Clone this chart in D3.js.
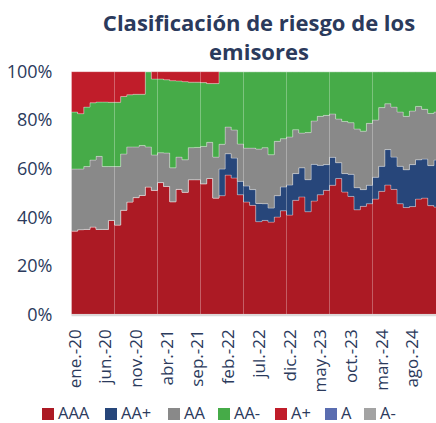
<!DOCTYPE html>
<html><head><meta charset="utf-8">
<script src="https://cdn.jsdelivr.net/npm/d3@7"></script>
<style>
body{margin:0;background:#fff}
svg{display:block}
text{font-family:"Open Sans",sans-serif;fill:#2B3A5C}
</style>
</head><body>
<svg id="c" width="436" height="423"></svg>
<script>
const months = [
 "ene.-20","feb.-20","mar.-20","abr.-20","may.-20","jun.-20","jul.-20","ago.-20","sep.-20","oct.-20","nov.-20","dic.-20",
 "ene.-21","feb.-21","mar.-21","abr.-21","may.-21","jun.-21","jul.-21","ago.-21","sep.-21","oct.-21","nov.-21","dic.-21",
 "ene.-22","feb.-22","mar.-22","abr.-22","may.-22","jun.-22","jul.-22","ago.-22","sep.-22","oct.-22","nov.-22","dic.-22",
 "ene.-23","feb.-23","mar.-23","abr.-23","may.-23","jun.-23","jul.-23","ago.-23","sep.-23","oct.-23","nov.-23","dic.-23",
 "ene.-24","feb.-24","mar.-24","abr.-24","may.-24","jun.-24","jul.-24","ago.-24","sep.-24","oct.-24","nov.-24","dic.-24"];
const tickLabels = ["ene.-20","jun.-20","nov.-20","abr.-21","sep.-21","feb.-22","jul.-22","dic.-22","may.-23","oct.-23","mar.-24","ago.-24"];
const gridMonths = ["ago.-20","mar.-21","oct.-21","may.-22","dic.-22","jul.-23","feb.-24"];
const yTicks = [0,20,40,60,80,100];
const seriesNames = ["AAA","AA+","AA","AA-","A+","A","A-"];
const colors = ["#AC1A24","#27467A","#898989","#46AB48","#C01D2A","#5A6DB0","#A3A3A3"];

const AAA = [34.3,34.9,35.0,36.0,35.0,35.0,38.7,36.8,42.9,46.3,48.1,49.0,52.5,51.1,54.3,52.7,46.4,51.5,50.3,55.5,
 55.5,53.8,56.0,47.9,48.9,57.4,56.2,49.3,46.3,44.9,38.2,38.7,38.0,40.1,42.7,40.9,47.0,48.4,42.3,46.7,
 49.3,51.1,53.2,56.0,50.4,48.6,43.1,44.5,45.6,47.5,50.7,53.3,51.5,45.6,44.0,44.4,47.5,47.9,44.8,44.2];
const AAplus = [0,0,0,0,0,0,0,0,0,0,0,0,0,0,0,0,0,0,0,0,0,0,0,0,
 11.0,8.8,8.2,5.5,6.6,6.5,7.5,6.9,5.8,8.8,9.8,12.4,11.0,12.0,13.2,15.1,
 12.1,10.6,11.5,6.5,7.6,9.1,9.1,6.9,7.6,9.0,10.3,14.6,13.3,15.4,15.6,17.3,16.2,16.1,16.5,19.4];
const AA = [25.6,25.0,25.9,27.6,30.1,25.9,22.2,24.1,23.2,22.7,20.9,20.6,16.5,14.6,12.3,13.8,14.0,13.3,13.4,13.2,
 13.3,15.4,14.9,16.9,10.2,11.0,11.6,15.4,15.6,17.1,22.4,23.1,22.0,22.4,19.9,19.8,18.1,14.3,19.4,17.9,
 20.2,20.3,17.9,18.0,21.5,21.3,24.2,24.1,25.5,23.6,24.2,18.9,20.6,22.4,22.0,22.1,22.0,20.5,21.5,19.8];
const AAminus = [23.5,22.8,24.5,23.6,22.4,26.6,26.5,26.5,23.7,21.5,21.7,21.1,31.0,31.3,30.4,30.2,35.9,31.4,32.2,27.0,
 26.9,26.3,24.2,30.3,29.9,22.8,24.0,29.8,31.5,31.5,31.9,31.3,34.2,28.7,27.6,26.9,23.9,25.3,25.1,20.3,
 18.4,18.0,17.4,19.5,20.5,21.0,23.6,24.5,21.3,19.9,14.8,13.2,14.6,16.6,18.4,16.2,14.3,15.5,17.2,16.6];
const Aplus = [16.6,17.3,14.6,12.8,12.5,12.5,12.6,12.6,10.2,9.5,9.3,9.3,0,3.0,3.0,3.3,3.7,3.8,4.1,4.3,
 4.3,4.5,4.9,4.9,0,0,0,0,0,0,0,0,0,0,0,0,0,0,0,0,
 0,0,0,0,0,0,0,0,0,0,0,0,0,0,0,0,0,0,0,0];
const A = [0,0,0,0,0,0,0,0,0,0,0,0,0,0,0,0,0,0,0,0,0,0,0,0,0,0,0,0,0,0,
 0,0,0,0,0,0,0,0,0,0,0,0,0,0,0,0,0,0,0,0,0,0,0,0,0,0,0,0,0,0];
const Aminus = [0,0,0,0,0,0,0,0,0,0,0,0,0,0,0,0,0,0,0,0,0,0,0,0,0,0,0,0,0,0,
 0,0,0,0,0,0,0,0,0,0,0,0,0,0,0,0,0,0,0,0,0,0,0,0,0,0,0,0,0,0];

const values = {"AAA":AAA,"AA+":AAplus,"AA":AA,"AA-":AAminus,"A+":Aplus,"A":A,"A-":Aminus};
const rows = months.map((m,i)=>{const r={month:m}; seriesNames.forEach(k=>r[k]=values[k][i]); return r;});
const stacked = d3.stack().keys(seriesNames)(rows);

const svg = d3.select("#c");
const pLeft = 71.5, pRight = 440.1, pTop = 71.7, pBottom = 314.3;
const x = d3.scaleBand().domain(months).range([pLeft,pRight]).paddingInner(0).paddingOuter(0);
const y = d3.scaleLinear().domain([0,100]).range([pBottom,pTop]);
const color = d3.scaleOrdinal().domain(seriesNames).range(colors);

const area = d3.area().curve(d3.curveStepAfter)
  .x(d=>d.x).y0(d=>y(d.y0)).y1(d=>y(d.y1));

const plot = svg.append("g");
stacked.forEach(s=>{
  if (d3.sum(values[s.key])===0) return;
  const pts = s.map((d,i)=>({x:x(months[i]), y0:d[0], y1:d[1]}));
  const last = s[s.length-1];
  pts.push({x:x(months[months.length-1])+x.bandwidth(), y0:last[0], y1:last[1]});
  plot.append("path").attr("d",area(pts)).attr("fill",color(s.key))
    .attr("stroke","rgba(255,255,255,0.35)").attr("stroke-width",0.8);
});

// vertical gridlines
svg.append("g").selectAll("line").data(gridMonths).join("line")
  .attr("x1",d=>x(d)).attr("x2",d=>x(d)).attr("y1",pTop).attr("y2",pBottom)
  .attr("stroke","rgba(255,255,255,0.3)").attr("stroke-width",1);

// baseline
svg.append("line").attr("x1",pLeft).attr("x2",436).attr("y1",pBottom+1).attr("y2",pBottom+1)
  .attr("stroke","#D9D9D9").attr("stroke-width",2);

// y axis
const yAxis = svg.append("g").attr("transform",`translate(${pLeft},0)`)
  .call(d3.axisLeft(y).tickValues(yTicks).tickFormat(d=>d+"%").tickSize(0).tickPadding(19));
yAxis.select(".domain").remove();
yAxis.selectAll("text").style("font-family","'Open Sans',sans-serif").style("font-size","18px").attr("fill","#2B3A5C");

// x axis
const xAxis = svg.append("g").attr("transform",`translate(0,${pBottom})`)
  .call(d3.axisBottom(x).tickValues(tickLabels).tickSize(0));
xAxis.select(".domain").remove();
xAxis.selectAll("text")
  .style("font-family","'Open Sans',sans-serif").style("font-size","17px").attr("fill","#2B3A5C")
  .attr("text-anchor","end").attr("transform","rotate(-90)")
  .attr("x",-15).attr("y",0).attr("dy","0.35em");

// title
const title = svg.append("text").attr("x",259).attr("text-anchor","middle")
  .style("font-weight","bold").style("font-size","22px").attr("fill","#2B3A5C");
title.append("tspan").attr("x",259).attr("y",31).text("Clasificación de riesgo de los");
title.append("tspan").attr("x",259).attr("y",60).text("emisores");

// legend (layout positions of the swatches)
const legendX = [42,105,168,218,275,325,364];
const lg = svg.append("g");
seriesNames.forEach((k,i)=>{
  lg.append("rect").attr("x",legendX[i]).attr("y",408).attr("width",12).attr("height",12).attr("fill",color(k));
  lg.append("text").attr("x",legendX[i]+16).attr("y",418.5)
    .style("font-size","16.5px").attr("fill","#2B3A5C").text(k);
});
</script>
</body></html>
